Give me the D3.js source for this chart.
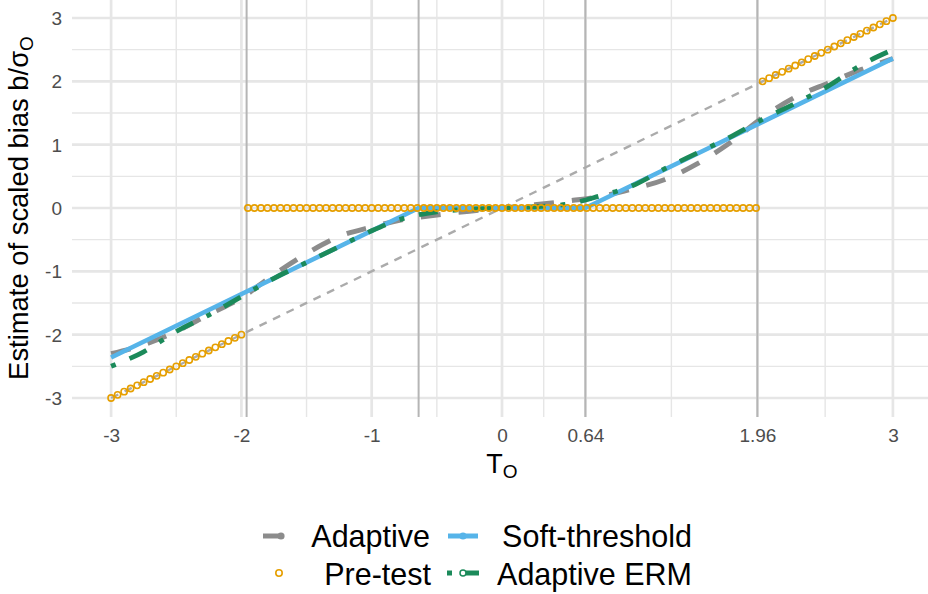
<!DOCTYPE html>
<html>
<head>
<meta charset="utf-8">
<script src="https://cdn.jsdelivr.net/npm/d3@7"></script>
<style>
  html, body { margin: 0; padding: 0; background: #fff; }
  svg { display: block; font-family: "Liberation Sans", Arial, sans-serif; }
</style>
</head>
<body>
<svg id="chart" width="928" height="594"></svg>
<script>
// ---------------- data ----------------
const xTicks = [-3, -2, -1, 0, 0.64, 1.96, 3];
const xMinor = [-2.5, -1.5, -0.5, 0.32, 1.3, 2.48];
const yTicks = [-3, -2, -1, 0, 1, 2, 3];
const yMinor = [-2.5, -1.5, -0.5, 0.5, 1.5, 2.5];
const vLines = [-1.96, -0.64, 0.64, 1.96];

// reference line b = T
const refT = [-3, 3];
const refB = [-3, 3];

// Adaptive estimator
const adaptiveT = [-3, -2.75, -2.5, -2.25, -2, -1.75, -1.5, -1.25, -1, -0.75, -0.5, -0.25, 0,
                   0.25, 0.5, 0.75, 1, 1.25, 1.5, 1.75, 2, 2.25, 2.5, 2.75, 3];
const adaptiveB = [-2.30, -2.16, -1.95, -1.68, -1.42, -1.05, -0.72, -0.45, -0.30, -0.18, -0.11, -0.05, 0,
                   0.05, 0.11, 0.18, 0.30, 0.45, 0.70, 1.03, 1.43, 1.75, 1.97, 2.18, 2.36];

// Soft-threshold estimator
const softT = [-3, -0.64, 0.64, 3];
const softB = [-2.36, 0, 0, 2.36];

// Adaptive ERM estimator
const ermT = [-3, -2.75, -2.5, -2.25, -2, -1.75, -1.5, -1.25, -1, -0.75, -0.5, -0.25, 0,
              0.25, 0.5, 0.75, 1, 1.25, 1.5, 1.75, 2, 2.25, 2.5, 2.75, 3];
const ermB = [-2.50, -2.27, -1.95, -1.69, -1.40, -1.11, -0.86, -0.61, -0.36, -0.16, -0.06, -0.02, 0,
              0.02, 0.06, 0.19, 0.35, 0.62, 0.87, 1.12, 1.40, 1.65, 1.92, 2.25, 2.50];

// Pre-test estimator (points)
const pretestT = [
  -3, -2.95, -2.9, -2.85, -2.8, -2.75, -2.7, -2.65, -2.6, -2.55, -2.5, -2.45, -2.4, -2.35, -2.3, -2.25, -2.2, -2.15, -2.1, -2.05, -2,
  -1.95, -1.9, -1.85, -1.8, -1.75, -1.7, -1.65, -1.6, -1.55, -1.5, -1.45, -1.4, -1.35, -1.3, -1.25, -1.2, -1.15, -1.1, -1.05, -1,
  -0.95, -0.9, -0.85, -0.8, -0.75, -0.7, -0.65, -0.6, -0.55, -0.5, -0.45, -0.4, -0.35, -0.3, -0.25, -0.2, -0.15, -0.1, -0.05, 0,
  0.05, 0.1, 0.15, 0.2, 0.25, 0.3, 0.35, 0.4, 0.45, 0.5, 0.55, 0.6, 0.65, 0.7, 0.75, 0.8, 0.85, 0.9, 0.95, 1,
  1.05, 1.1, 1.15, 1.2, 1.25, 1.3, 1.35, 1.4, 1.45, 1.5, 1.55, 1.6, 1.65, 1.7, 1.75, 1.8, 1.85, 1.9, 1.95,
  2, 2.05, 2.1, 2.15, 2.2, 2.25, 2.3, 2.35, 2.4, 2.45, 2.5, 2.55, 2.6, 2.65, 2.7, 2.75, 2.8, 2.85, 2.9, 2.95, 3
];
const pretestB = [
  -3, -2.95, -2.9, -2.85, -2.8, -2.75, -2.7, -2.65, -2.6, -2.55, -2.5, -2.45, -2.4, -2.35, -2.3, -2.25, -2.2, -2.15, -2.1, -2.05, -2,
  0, 0, 0, 0, 0, 0, 0, 0, 0, 0, 0, 0, 0, 0, 0, 0, 0, 0, 0, 0,
  0, 0, 0, 0, 0, 0, 0, 0, 0, 0, 0, 0, 0, 0, 0, 0, 0, 0, 0, 0,
  0, 0, 0, 0, 0, 0, 0, 0, 0, 0, 0, 0, 0, 0, 0, 0, 0, 0, 0, 0,
  0, 0, 0, 0, 0, 0, 0, 0, 0, 0, 0, 0, 0, 0, 0, 0, 0, 0, 0,
  2, 2.05, 2.1, 2.15, 2.2, 2.25, 2.3, 2.35, 2.4, 2.45, 2.5, 2.55, 2.6, 2.65, 2.7, 2.75, 2.8, 2.85, 2.9, 2.95, 3
];

const seriesNames = ["Adaptive", "Soft-threshold", "Pre-test", "Adaptive ERM"];

// ---------------- styles ----------------
const COL = {
  adaptive: "#8c8c8c",
  soft: "#56B4E9",
  pretest: "#E69F00",
  erm: "#1B8A5A",
  ref: "#ababab",
  vline: "#b5b5b5",
  grid: "#e6e6e6",
  text: "#4d4d4d"
};

const svg = d3.select("#chart");
const panel = { left: 72, right: 932, top: -1, bottom: 417 };

const x = d3.scaleLinear().domain([-3.3, 3.3]).range([panel.left, panel.right]);
const y = d3.scaleLinear().domain([-3.3, 3.3]).range([panel.bottom, panel.top]);

const zip = (a, b) => a.map((v, i) => [v, b[i]]);
const line = d3.line().x(d => x(d[0])).y(d => y(d[1]));
const smooth = d3.line().curve(d3.curveMonotoneX).x(d => x(d[0])).y(d => y(d[1]));

// grid
const g = svg.append("g");
g.selectAll("line.xminor").data(xMinor).join("line")
  .attr("x1", d => x(d)).attr("x2", d => x(d))
  .attr("y1", panel.top).attr("y2", panel.bottom)
  .attr("stroke", COL.grid).attr("stroke-width", 1.4);
g.selectAll("line.yminor").data(yMinor).join("line")
  .attr("y1", d => y(d)).attr("y2", d => y(d))
  .attr("x1", panel.left).attr("x2", panel.right)
  .attr("stroke", COL.grid).attr("stroke-width", 1.4);
g.selectAll("line.xmajor").data(xTicks).join("line")
  .attr("x1", d => x(d)).attr("x2", d => x(d))
  .attr("y1", panel.top).attr("y2", panel.bottom)
  .attr("stroke", COL.grid).attr("stroke-width", 2.7);
g.selectAll("line.ymajor").data(yTicks).join("line")
  .attr("y1", d => y(d)).attr("y2", d => y(d))
  .attr("x1", panel.left).attr("x2", panel.right)
  .attr("stroke", COL.grid).attr("stroke-width", 2.7);

// vertical reference lines
g.selectAll("line.vl").data(vLines).join("line")
  .attr("x1", d => x(d)).attr("x2", d => x(d))
  .attr("y1", panel.top).attr("y2", panel.bottom)
  .attr("stroke", COL.vline).attr("stroke-width", 2);

// axes
const xAxis = d3.axisBottom(x).tickValues(xTicks).tickSize(0).tickPadding(0)
  .tickFormat(d => String(d));
const xa = svg.append("g").attr("transform", `translate(0,${panel.bottom})`).call(xAxis);
xa.select(".domain").remove();
xa.selectAll("text").attr("dy", null).attr("y", 25)
  .attr("font-size", 19).attr("fill", COL.text)
  .attr("font-family", "Liberation Sans, Arial, sans-serif");

const yAxis = d3.axisLeft(y).tickValues(yTicks).tickSize(0).tickPadding(0)
  .tickFormat(d => String(d));
const ya = svg.append("g").attr("transform", `translate(62,0)`).call(yAxis);
ya.select(".domain").remove();
ya.selectAll("text").attr("x", 0).attr("dy", "0.35em")
  .attr("font-size", 19).attr("fill", COL.text)
  .attr("font-family", "Liberation Sans, Arial, sans-serif");

// axis titles
const xt = svg.append("text").attr("x", 502).attr("y", 473)
  .attr("text-anchor", "middle").attr("font-size", 27).attr("fill", "#000");
xt.append("tspan").text("T");
xt.append("tspan").text("O").attr("font-size", 19).attr("dy", 5);

const yt = svg.append("text")
  .attr("transform", `translate(28,${y(0)}) rotate(-90)`)
  .attr("text-anchor", "middle").attr("font-size", 27.4).attr("fill", "#000");
yt.append("tspan").text("Estimate of scaled bias b/σ");
yt.append("tspan").text("O").attr("font-size", 19).attr("dy", 5);

// series
const plot = svg.append("g");
plot.append("path").datum(zip(refT, refB)).attr("d", line)
  .attr("fill", "none").attr("stroke", COL.ref).attr("stroke-width", 2.4)
  .attr("stroke-dasharray", "8,7");

plot.append("path").datum(zip(adaptiveT, adaptiveB)).attr("d", smooth)
  .attr("fill", "none").attr("stroke", COL.adaptive).attr("stroke-width", 5)
  .attr("stroke-dasharray", "20,18");

plot.append("path").datum(zip(softT, softB)).attr("d", line)
  .attr("fill", "none").attr("stroke", COL.soft).attr("stroke-width", 4.6);

plot.append("path").datum(zip(ermT, ermB)).attr("d", smooth)
  .attr("fill", "none").attr("stroke", COL.erm).attr("stroke-width", 4.8)
  .attr("stroke-dasharray", "5,15,19,15");

plot.selectAll("circle.pt").data(zip(pretestT, pretestB)).join("circle")
  .attr("cx", d => x(d[0])).attr("cy", d => y(d[1])).attr("r", 3.1)
  .attr("fill", "none").attr("stroke", COL.pretest).attr("stroke-width", 1.6);

// legend
const leg = svg.append("g").attr("font-size", 30.5).attr("fill", "#000");
// Adaptive
leg.append("line").attr("x1", 263).attr("x2", 279).attr("y1", 536).attr("y2", 536)
  .attr("stroke", COL.adaptive).attr("stroke-width", 5);
leg.append("circle").attr("cx", 281).attr("cy", 536).attr("r", 3.6).attr("fill", COL.adaptive);
leg.append("text").attr("x", 430).attr("y", 547).attr("text-anchor", "end").text(seriesNames[0]);
// Soft-threshold
leg.append("line").attr("x1", 448).attr("x2", 478).attr("y1", 536).attr("y2", 536)
  .attr("stroke", COL.soft).attr("stroke-width", 5);
leg.append("circle").attr("cx", 463).attr("cy", 536).attr("r", 3.6).attr("fill", COL.soft);
leg.append("text").attr("x", 692).attr("y", 547).attr("text-anchor", "end").text(seriesNames[1]);
// Pre-test
leg.append("circle").attr("cx", 279).attr("cy", 573).attr("r", 3.2)
  .attr("fill", "none").attr("stroke", COL.pretest).attr("stroke-width", 1.6);
leg.append("text").attr("x", 431).attr("y", 584.5).attr("text-anchor", "end").text(seriesNames[2]);
// Adaptive ERM
leg.append("rect").attr("x", 447).attr("y", 570.5).attr("width", 5).attr("height", 5).attr("fill", COL.erm);
leg.append("line").attr("x1", 466).attr("x2", 479).attr("y1", 573).attr("y2", 573)
  .attr("stroke", COL.erm).attr("stroke-width", 5);
leg.append("circle").attr("cx", 463).attr("cy", 573).attr("r", 3)
  .attr("fill", "#fff").attr("stroke", COL.erm).attr("stroke-width", 1.5);
leg.append("text").attr("x", 692).attr("y", 584.5).attr("text-anchor", "end").text(seriesNames[3]);
</script>
</body>
</html>
